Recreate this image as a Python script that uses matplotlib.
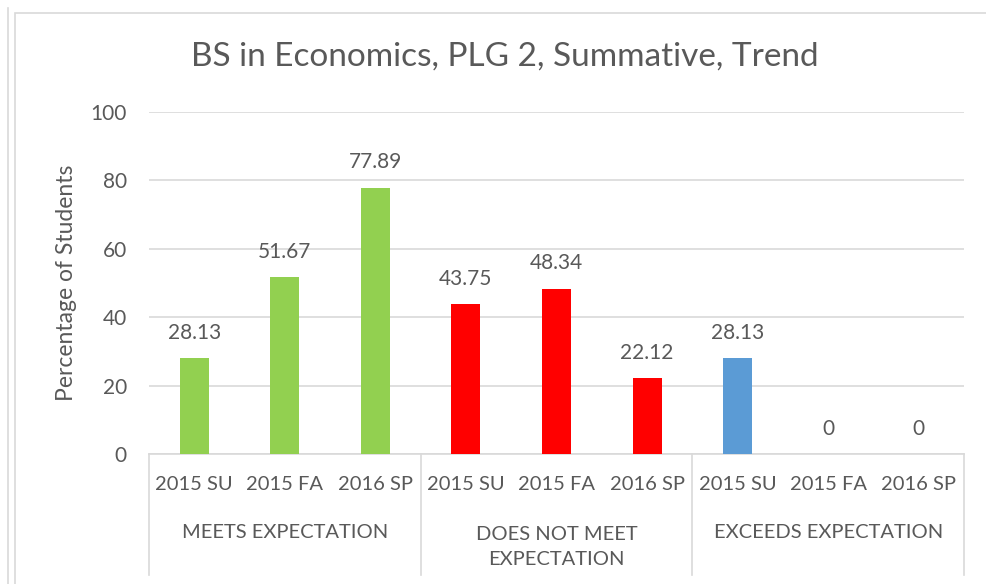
import matplotlib.pyplot as plt
import matplotlib.transforms as mtrans
from matplotlib.patches import Rectangle
from matplotlib.lines import Line2D

plt.rcParams['font.family'] = ['Lato', 'DejaVu Sans']

groups = ['MEETS EXPECTATION', 'DOES NOT MEET\nEXPECTATION', 'EXCEEDS EXPECTATION']
terms = ['2015 SU', '2015 FA', '2016 SP']
meets = [28.13, 51.67, 77.89]
not_meet = [43.75, 48.34, 22.12]
exceeds = [28.13, 0, 0]
colors = ['#92D050', '#FF0000', '#5B9BD5']

W, H = 986, 584
fig = plt.figure(figsize=(W / 100, H / 100), dpi=100)
txt = '#595959'
grid = '#d9d9d9'

# outer frames
fig.add_artist(Line2D([8 / W, 8 / W], [0, 1 - 8 / H], color=grid, lw=1.2))
fig.add_artist(Rectangle((15 / W, -0.1), 1.2, 1 - 13 / H + 0.1, fill=False,
                         edgecolor=grid, lw=1.2))

x0, x1, y0, y1 = 149, 964, 454, 112
ax = fig.add_axes([x0 / W, 1 - y0 / H, (x1 - x0) / W, (y0 - y1) / H])

values = [meets, not_meet, exceeds]
for g, vals in enumerate(values):
    for i, v in enumerate(vals):
        xp = g * 3 + i
        ax.bar(xp, v, width=0.32, color=colors[g], zorder=3)
        ax.annotate(f'{v:g}' if v != 0 else '0', (xp, v), xytext=(0, 11),
                    textcoords='offset points', ha='center', va='bottom',
                    fontsize=15, color=txt)

ax.set_xlim(-0.5, 8.5)
ax.set_ylim(0, 100)
ax.set_yticks(range(0, 101, 20))
ax.yaxis.grid(True, color=grid, lw=1.2, zorder=0)
ax.tick_params(axis='y', length=0, pad=16, labelsize=15, labelcolor=txt)
ax.set_xticks([])
for s in ['top', 'right', 'left']:
    ax.spines[s].set_visible(False)
ax.spines['bottom'].set_color(grid)
ax.spines['bottom'].set_linewidth(1.2)

tr = mtrans.blended_transform_factory(ax.transData, ax.transAxes)
depth = -(575 - 454) / (y0 - y1)
for xs in [-0.5, 2.5, 5.5, 8.5]:
    ax.plot([xs, xs], [0, depth], transform=tr, color=grid, lw=1.2, clip_on=False)

for g in range(3):
    for i, t in enumerate(terms):
        ax.text(g * 3 + i, -(485 - 454) / (y0 - y1), t, transform=tr, ha='center',
                va='center', fontsize=14.5, color=txt)
    if '\n' in groups[g]:
        ax.text(g * 3 + 1, -(547 - 454) / (y0 - y1), groups[g], transform=tr,
                ha='center', va='center', fontsize=14.5, color=txt, linespacing=1.6)
    else:
        ax.text(g * 3 + 1, -(532 - 454) / (y0 - y1), groups[g], transform=tr,
                ha='center', va='center', fontsize=14.5, color=txt)

ax.set_ylabel('Percentage of Students', fontsize=16.5, color=txt)
ax.yaxis.set_label_coords(-(149 - 77) / (x1 - x0), 0.5)
fig.text(505 / W, 1 - 57 / H, 'BS in Economics, PLG 2, Summative, Trend',
         ha='center', va='center', fontsize=24, color=txt)

fig.savefig('out.png', dpi=100)
